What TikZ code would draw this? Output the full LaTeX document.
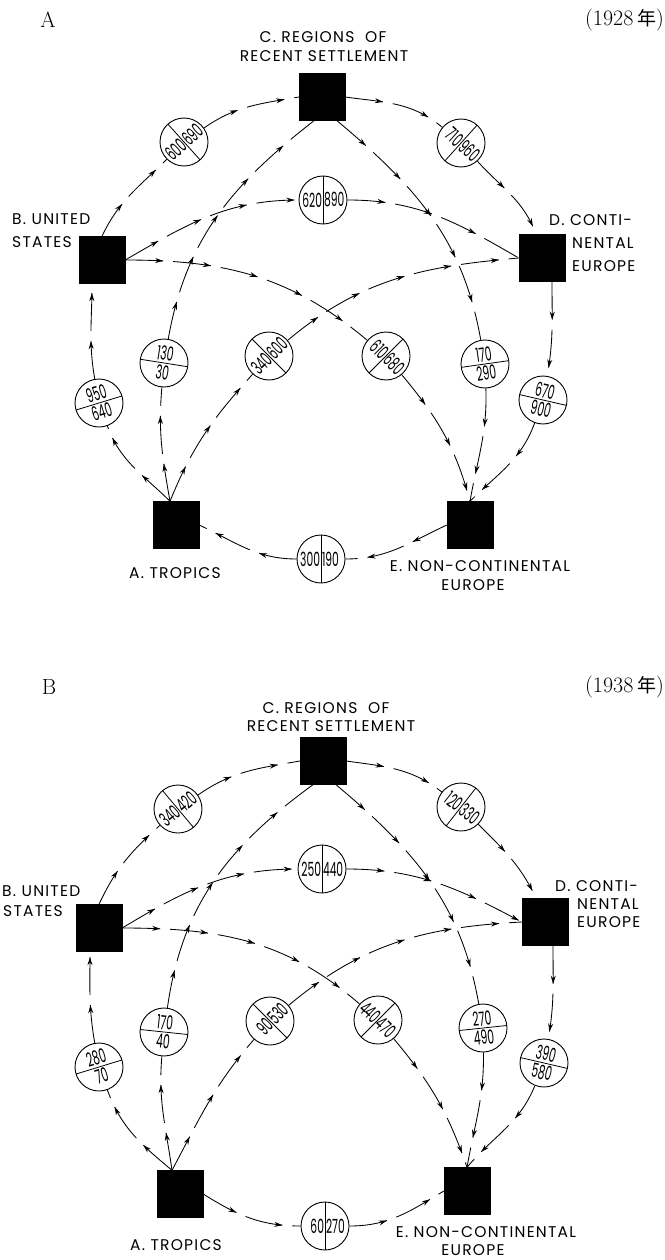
\documentclass[tikz,border=0pt]{standalone}
\usepackage{fontspec}
\usetikzlibrary{arrows.meta,decorations.markings}
\newfontfamily\labfont{Poppins}[LetterSpace=8]
\newfontfamily\numfont{Poppins}[FakeStretch=0.55]
\newfontfamily\cjk{Noto Sans CJK JP}
\tikzset{
  sq/.style={fill=black, draw=black, minimum width=46pt, minimum height=47pt, inner sep=0pt},
  ring/.style={circle, draw, fill=white, line width=0.9pt, minimum size=48pt, inner sep=0pt},
  num/.style={font=\numfont\fontsize{19.5}{19.5}\selectfont, inner sep=0pt},
  lab/.style={font=\labfont\fontsize{15.5}{15.5}\selectfont, inner sep=0pt},
  serif/.style={font=\fontsize{22}{22}\selectfont, inner sep=0pt},
  divline/.style={line width=0.8pt},
  flow/.style={line width=0.85pt, dash pattern=on 38pt off 10pt,
    postaction={decorate},
    decoration={markings, mark=between positions 38pt and -3pt step 48pt with {\arrow{Stealth[length=8pt,width=5pt]}}}},
}
\newcommand\vring[5]{%
  \node[ring] (#1) at (#2) {};
  \begin{scope}[shift={(#2)}, rotate=#3]
    \draw[divline] (0,-24) -- (0,24);
    \node[num, transform shape, anchor=east] (#1l) at (-0.8,0) {#4};
    \node[num, transform shape, anchor=west] (#1r) at (0.8,0) {#5};
  \end{scope}}
\newcommand\hring[5]{%
  \node[ring] (#1) at (#2) {};
  \begin{scope}[shift={(#2)}, rotate=#3]
    \draw[divline] (-24,0) -- (24,0);
    \node[num, transform shape, anchor=south] (#1t) at (0,2) {#4};
    \node[num, transform shape, anchor=north] (#1b) at (0,-2) {#5};
  \end{scope}}
\begin{document}
\begin{tikzpicture}[x=1pt,y=1pt]
\useasboundingbox (0,0) rectangle (664,-1260);
\fill[white] (0,0) rectangle (664,-1260);

% ================= Panel A (1928) =================
\node[serif] (tA) at (48,-20) {A};
\node[serif, anchor=east] (yA) at (664,-20) {(1928\,{\cjk\fontsize{19}{19}\selectfont 年})};
\node[lab] (lC1a) at (323,-37) {C. REGIONS\ \ OF};
\node[lab] (lC1b) at (324,-56) {RECENT SETTLEMENT};
\node[lab, anchor=west] (lB1a) at (12,-219) {B. UNITED};
\node[lab, anchor=west] (lB1b) at (12,-242) {STATES};
\node[lab, anchor=west] (lD1a) at (549,-220) {D. CONTI-};
\node[lab, anchor=west] (lD1b) at (572,-243) {NENTAL};
\node[lab, anchor=west] (lD1c) at (572,-266) {EUROPE};
\node[lab] (lA1) at (175,-573) {A. TROPICS};
\node[lab] (lE1a) at (480,-566) {E. NON-CONTINENTAL};
\node[lab] (lE1b) at (473,-585) {EUROPE};

\node[sq] (C1) at (322,-97) {};
\node[sq] (B1) at (102,-260) {};
\node[sq] (D1) at (542,-258) {};
\node[sq] (A1) at (176,-525) {};
\node[sq] (E1) at (470,-525) {};

\vring{bc1}{184,-142}{42}{600}{690}
\vring{cd1}{461,-143}{-42}{710}{960}
\vring{bd1}{323,-200}{0}{620}{890}
\hring{ab1}{99,-403}{17}{950}{640}
\hring{ac1}{164,-363}{-9}{130}{30}
\vring{ad1}{269,-356}{45}{340}{600}
\vring{be1}{386,-356}{-45}{610}{680}
\hring{ce1}{485,-364}{8}{170}{290}
\hring{de1}{543,-400}{-13}{670}{900}
\vring{ea1}{321,-559}{0}{300}{190}

\draw[flow] (B1.north) to[out=65,in=225] (bc1);
\draw[flow] (bc1) to[out=35,in=190] (C1.west);
\draw[flow] (C1.east) to[out=-8,in=140] (cd1);
\draw[flow] (cd1) to[out=-48,in=110] ([xshift=-6pt]D1.north);
\draw[flow] (B1.east) to[out=30,in=180] (bd1);
\draw[flow] (bd1) to[out=0,in=150] (D1.west);
\draw[flow] (B1.east) to[out=0,in=140] (be1);
\draw[flow] (be1) to[out=-50,in=105] (E1.north);
\draw[flow] ([xshift=-6pt]A1.north) to[out=68,in=228] (ad1);
\draw[flow] (ad1) to[out=40,in=185] (D1.west);
\draw[flow] ([xshift=-6pt]A1.north) to[out=100,in=265] (ac1);
\draw[flow] (ac1) to[out=80,in=218] ([xshift=-8pt]C1.south);
\draw[flow] ([xshift=15pt]C1.south) to[out=-40,in=100] (ce1);
\draw[flow] (ce1) to[out=-88,in=80] (E1.north);
\draw[flow] ([xshift=10pt]D1.south) to[out=-90,in=80] (de1);
\draw[flow] (de1) to[out=-110,in=45] (E1.north);
\draw[flow] ([xshift=-6pt]A1.north) to[out=135,in=-70] (ab1);
\draw[flow] (ab1) to[out=100,in=-90] ([xshift=-10pt]B1.south);
\draw[flow] (E1.west) to[out=205,in=0] (ea1);
\draw[flow] (ea1) to[out=180,in=-25] (A1.east);

% ================= Panel B (1938) =================
\node[serif] (tB) at (49,-687) {B};
\node[serif, anchor=east] (yB) at (664,-687) {(1938\,{\cjk\fontsize{19}{19}\selectfont 年})};
\node[lab] (lC2a) at (326,-708) {C. REGIONS\ \ OF};
\node[lab] (lC2b) at (331,-726) {RECENT SETTLEMENT};
\node[lab, anchor=west] (lB2a) at (2,-891) {B. UNITED};
\node[lab, anchor=west] (lB2b) at (3,-911) {STATES};
\node[lab, anchor=west] (lD2a) at (555,-886) {D. CONTI-};
\node[lab, anchor=west] (lD2b) at (577,-904) {NENTAL};
\node[lab, anchor=west] (lD2c) at (577,-922) {EUROPE};
\node[lab] (lA2) at (176,-1245) {A. TROPICS};
\node[lab] (lE2a) at (486,-1232) {E. NON-CONTINENTAL};
\node[lab] (lE2b) at (473,-1250) {EUROPE};

\node[sq] (C2) at (323,-761) {};
\node[sq] (B2) at (99,-928) {};
\node[sq] (D2) at (545,-922) {};
\node[sq] (A2) at (180,-1194) {};
\node[sq] (E2) at (467,-1191) {};

\vring{bc2}{178,-809}{40}{340}{420}
\vring{cd2}{461,-807}{-38}{120}{330}
\vring{bd2}{322,-869}{0}{250}{440}
\hring{ab2}{99,-1067}{17}{280}{70}
\hring{ac2}{164,-1032}{-6}{170}{40}
\vring{ad2}{270,-1021}{45}{90}{530}
\vring{be2}{378,-1020}{-45}{440}{470}
\hring{ce2}{483,-1028}{6}{270}{490}
\hring{de2}{544,-1063}{-13}{390}{580}
\vring{ae2}{325,-1226}{0}{60}{270}

\draw[flow] (B2.north) to[out=65,in=222] (bc2);
\draw[flow] (bc2) to[out=35,in=190] (C2.west);
\draw[flow] (C2.east) to[out=-8,in=142] (cd2);
\draw[flow] (cd2) to[out=-45,in=115] ([xshift=-9pt]D2.north);
\draw[flow] (B2.east) to[out=31,in=180] (bd2);
\draw[flow] (bd2) to[out=0,in=152] (D2.west);
\draw[flow] (B2.east) to[out=0,in=139] (be2);
\draw[flow] (be2) to[out=-50,in=109] (E2.north);
\draw[flow] ([xshift=-8pt]A2.north) to[out=62,in=229] (ad2);
\draw[flow] (ad2) to[out=40,in=183] (D2.west);
\draw[flow] ([xshift=-8pt]A2.north) to[out=98,in=265] (ac2);
\draw[flow] (ac2) to[out=82,in=216] ([xshift=-10pt]C2.south);
\draw[flow] ([xshift=13pt]C2.south) to[out=-40,in=100] (ce2);
\draw[flow] (ce2) to[out=-89,in=80] (E2.north);
\draw[flow] ([xshift=8pt]D2.south) to[out=-90,in=80] (de2);
\draw[flow] (de2) to[out=-112,in=50] (E2.north);
\draw[flow] ([xshift=-8pt]A2.north) to[out=140,in=-70] (ab2);
\draw[flow] (ab2) to[out=100,in=-90] ([xshift=-9pt]B2.south);
\draw[flow] (A2.east) to[out=-32,in=180] (ae2);
\draw[flow] (ae2) to[out=0,in=211] (E2.west);
\end{tikzpicture}
\end{document}
